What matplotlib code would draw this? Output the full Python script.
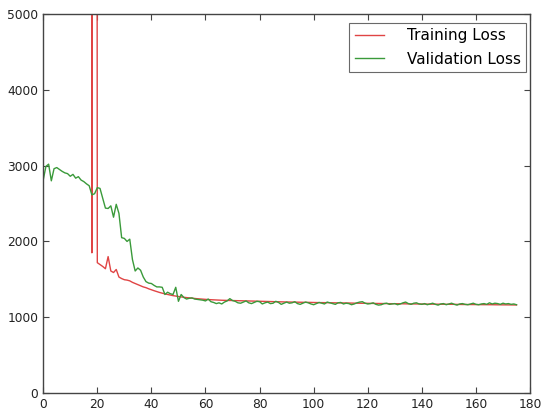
import matplotlib
matplotlib.use("Agg")
import matplotlib.pyplot as plt

# epochs where training loss is recorded (values before epoch 18 are far off-scale)
train_start = 17
train_loss = [
    60000, 1850, 60000, 1720, 1695, 1670, 1640, 1800, 1610, 1590,
    1630, 1530, 1510, 1495, 1490, 1480, 1460, 1445, 1430, 1415,
    1400, 1390, 1375, 1362, 1350, 1338, 1327, 1317, 1308, 1300,
    1292, 1285, 1279, 1273, 1268, 1263, 1259, 1255, 1251, 1248,
    1244, 1241, 1238, 1235,
    1233, 1231, 1229, 1228, 1226, 1224, 1223, 1222, 1220, 1219,
    1218, 1217, 1216, 1215, 1214, 1213, 1212, 1211, 1210, 1209,
    1208, 1207, 1207, 1206, 1205, 1204, 1204, 1203, 1202, 1201,
    1201, 1200, 1199, 1199, 1198, 1197, 1197, 1196, 1195, 1195,
    1194, 1193, 1193, 1192, 1192, 1191, 1190, 1190, 1189, 1189,
    1188, 1188, 1187, 1186, 1186, 1185, 1185, 1184, 1184, 1183,
    1183, 1182, 1182, 1181, 1181, 1180, 1180, 1179, 1179, 1178,
    1178, 1178, 1177, 1177, 1176, 1176, 1175, 1175, 1175, 1174,
    1174, 1173, 1173, 1173, 1172, 1172, 1171, 1171, 1171, 1170,
    1170, 1170, 1169, 1169, 1168, 1168, 1168, 1167, 1167, 1167,
    1166, 1166, 1166, 1165, 1165, 1165, 1164, 1164, 1164, 1163,
    1163, 1163, 1162, 1162, 1162,
]

val_loss = [
    2810, 2990, 3020, 2800, 2960, 2975, 2950, 2925, 2905, 2895,
    2860, 2885, 2835, 2855, 2810, 2790, 2760, 2735, 2615, 2630,
    2710, 2700, 2570, 2440, 2435, 2470, 2320, 2490, 2370, 2050,
    2040, 2000, 2030, 1760, 1610, 1650, 1620, 1530, 1470, 1450,
    1445, 1420, 1400, 1400, 1395, 1300, 1330, 1310, 1300, 1395,
    1210, 1300, 1260, 1240, 1250, 1255, 1240, 1235, 1230, 1225,
    1215, 1240, 1205, 1195, 1180, 1190, 1175, 1200, 1215, 1245,
    1220, 1210, 1190, 1185, 1200, 1215, 1190, 1180, 1195, 1210,
    1205, 1175, 1190, 1200, 1180, 1185, 1210, 1195, 1170, 1185,
    1200, 1185, 1190, 1205, 1180, 1170, 1185, 1200, 1190, 1175,
    1165, 1180, 1195, 1185, 1175, 1200, 1190, 1180, 1170, 1190,
    1195, 1175, 1185, 1180, 1165, 1175, 1190, 1200, 1205, 1185,
    1175, 1180, 1190, 1170, 1160, 1165, 1180, 1185, 1170, 1175,
    1180, 1165, 1175, 1190, 1200, 1180, 1170, 1185, 1190, 1175,
    1170, 1180, 1165, 1175, 1185, 1170, 1160, 1175, 1180, 1165,
    1175, 1185, 1170, 1160, 1175, 1180, 1170, 1165, 1175, 1185,
    1170, 1165, 1175, 1180, 1170, 1190, 1175, 1185, 1180, 1170,
    1185, 1175, 1180, 1170, 1175, 1165,
]

train_x = list(range(train_start, train_start + len(train_loss)))
val_x = list(range(len(val_loss)))

fig = plt.figure(figsize=(5.47, 4.15), dpi=100)
ax = fig.add_axes([0.079, 0.053, 0.89, 0.913])

ax.plot(train_x, train_loss, color="#e04444", lw=1.0, label="Training Loss")
ax.plot(val_x, val_loss, color="#3a9a3a", lw=1.0, label="Validation Loss")

ax.set_xlim(0, 180)
ax.set_ylim(0, 5000)
ax.set_xticks(range(0, 181, 20))
ax.set_yticks(range(0, 5001, 1000))

for s in ax.spines.values():
    s.set_color("#444444")
    s.set_linewidth(1.0)
ax.tick_params(direction="in", top=True, right=True, length=4,
               color="#444444", labelsize=8.8, labelcolor="#222222")

leg = ax.legend(loc="upper right", bbox_to_anchor=(0.992, 0.977),
                borderaxespad=0, fontsize=11, frameon=True, fancybox=False,
                handlelength=1.9, handletextpad=1.5, borderpad=0.36,
                labelspacing=0.55)
leg.get_frame().set_edgecolor("#444444")
leg.get_frame().set_linewidth(0.8)

fig.savefig("out.png", dpi=100, facecolor="white")
